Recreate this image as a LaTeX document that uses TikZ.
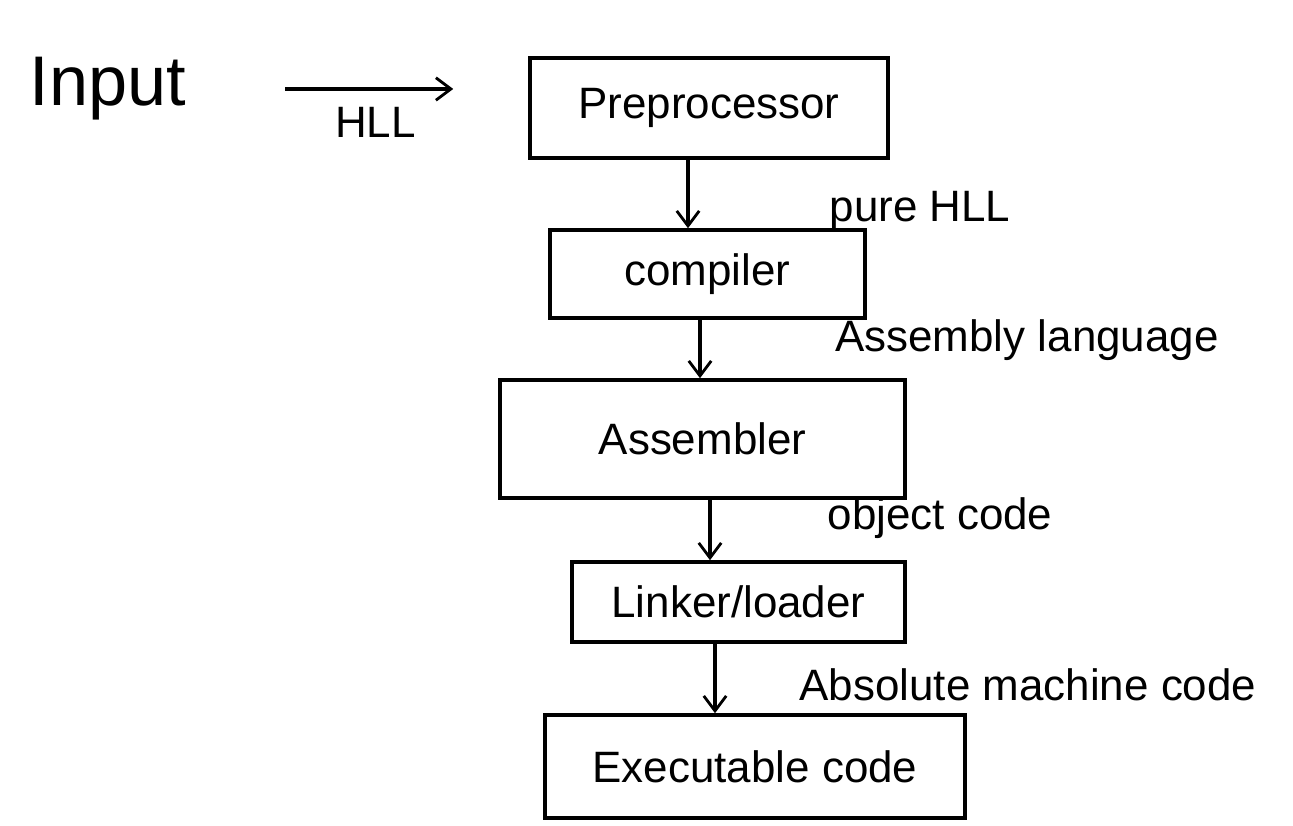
\documentclass[tikz,border=0pt]{standalone}
\usepackage{fontspec}
\setmainfont{Liberation Sans}
\usetikzlibrary{arrows.meta}
\begin{document}
\begin{tikzpicture}[
    stage/.style={draw, line width=2pt, minimum height=#1, inner sep=0pt},
    flow/.style={-{Straight Barb[length=3mm, width=4.5mm, line width=1.6pt]}, line width=2pt},
    lbl/.style={font=\fontsize{25}{28}\selectfont}
  ]
            % Page
            \useasboundingbox[fill=white] (0,0) rectangle (25.86,16.52);

            % Input and HLL arrow
            \node[font=\fontsize{40}{44}\selectfont] (inp) at (2.16,14.74) {Input};
            \node[stage=2.0cm, minimum width=7.16cm, lbl] (pre) at (14.18,14.36) {Preprocessor};
            \draw[flow, shorten <=1.86cm, shorten >=1.5cm] (inp.east) -- (inp.east -| pre.west)
                node[midway, below=6pt, xshift=0.3cm, lbl] {HLL};

            % Compiler
            \node[stage=1.76cm, minimum width=6.3cm, lbl] (comp) at (14.15,11.04) {compiler};
            \coordinate (a1) at (13.76,0);
            \draw[flow] (pre.south -| a1) -- (comp.north -| a1);
            \node[lbl] (l1) at (18.4,12.3) {pure HLL};

            % Assembler
            \node[stage=2.36cm, minimum width=8.1cm, lbl] (asm) at (14.05,7.74) {Assembler};
            \coordinate (a2) at (14.0,0);
            \draw[flow] (comp.south -| a2) -- (asm.north -| a2);
            \node[lbl] (l2) at (20.54,9.72) {Assembly language};

            % Linker/loader
            \node[stage=1.6cm, minimum width=6.66cm, lbl] (link) at (14.77,4.48) {Linker/loader};
            \coordinate (a3) at (14.2,0);
            \draw[flow] (asm.south -| a3) -- (link.north -| a3);
            \node[lbl] (l3) at (18.8,6.16) {object code};

            % Executable code
            \node[stage=2.06cm, minimum width=8.4cm, lbl] (exe) at (15.1,1.19) {Executable code};
            \coordinate (a4) at (14.3,0);
            \draw[flow] (link.south -| a4) -- (exe.north -| a4);
            \node[lbl] (l4) at (20.56,2.82) {Absolute machine code};
\end{tikzpicture}
\end{document}
